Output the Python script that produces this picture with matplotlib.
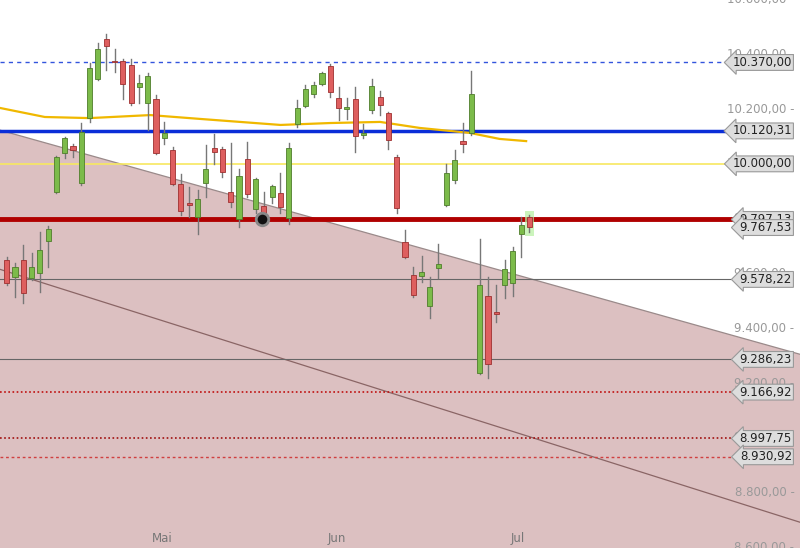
import matplotlib.pyplot as plt
from matplotlib.patches import Polygon

# OHLC per trading day (approx. Apr - Jul)
opens = [9649, 9586, 9649, 9582, 9600, 9720, 9899, 10041, 10065, 9931,
         10166, 10310, 10457, 10375, 10375, 10361, 10282, 10221, 10237, 10093,
         10051, 9927, 9856, 9807, 9929, 10057, 10053, 9899, 9798, 10017,
         9834, 9847, 9880, 9892, 9801, 10145, 10211, 10255, 10291, 10357,
         10242, 10199, 10236, 10105, 10197, 10245, 10184, 10026, 9716, 9594,
         9591, 9481, 9621, 9850, 9941, 10083, 10111, 9238, 9518, 9461,
         9558, 9566, 9743, 9807]
closes = [9564, 9625, 9530, 9625, 9686, 9761, 10026, 10096, 10051, 10118,
          10349, 10418, 10431, 10372, 10291, 10221, 10296, 10321, 10038, 10114,
          9927, 9829, 9851, 9871, 9980, 10044, 9972, 9862, 9956, 9890,
          9943, 9819, 9919, 9844, 10057, 10205, 10272, 10288, 10333, 10263,
          10205, 10209, 10102, 10114, 10284, 10215, 10087, 9838, 9661, 9521,
          9607, 9552, 9633, 9965, 10014, 10071, 10255, 9558, 9270, 9451,
          9615, 9683, 9776, 9771]
highs = [9661, 9637, 9704, 9673, 9753, 9773, 10029, 10099, 10073, 10148,
         10367, 10440, 10474, 10418, 10381, 10381, 10324, 10330, 10251, 10154,
         10060, 9963, 9917, 9905, 10069, 10108, 10063, 10077, 9980, 10081,
         9947, 9899, 9923, 9968, 10077, 10233, 10288, 10300, 10336, 10363,
         10282, 10242, 10282, 10145, 10311, 10266, 10190, 10032, 9759, 9625,
         9664, 9588, 9708, 9999, 10051, 10148, 10340, 9725, 9588, 9558,
         9649, 9698, 9807, 9813]
lows = [9558, 9515, 9491, 9576, 9534, 9625, 9895, 10020, 10026, 9923,
        10154, 10306, 10343, 10336, 10236, 10215, 10221, 10124, 10036, 10072,
        9923, 9813, 9807, 9744, 9880, 10000, 9953, 9844, 9771, 9880,
        9819, 9810, 9856, 9819, 9781, 10133, 10206, 10245, 10288, 10245,
        10160, 10163, 10045, 10093, 10184, 10178, 10053, 9822, 9655, 9513,
        9570, 9436, 9582, 9846, 9931, 10044, 10105, 9233, 9217, 9424,
        9512, 9518, 9661, 9753]

# moving average
ma_x = [-0.8, 4.6, 10, 17.3, 23.3, 33, 39, 45, 49.8, 55.8, 59.4, 62.6]
ma_y = [10204, 10171, 10167, 10178, 10164, 10142, 10149, 10153, 10131, 10113, 10091, 10083]

month_pos = [18.7, 39.8, 61.6]
month_labels = ["Mai", "Jun", "Jul"]

x0, x1 = -0.8, 95.6
y0, y1 = 8598, 10598
trend_upper = [10123, 9305]
trend_lower = [9615, 8692]

fig = plt.figure(figsize=(8, 5.48), dpi=100)
ax = fig.add_axes([0, 0, 1, 1])
ax.set_xlim(x0, x1)
ax.set_ylim(y0, y1)
ax.axis("off")

# shaded channel
ax.add_patch(Polygon([(x0, trend_upper[0]), (x1, trend_upper[1]), (x1, y0), (x0, y0)],
                     closed=True, facecolor="#dcc0c1", edgecolor="none", zorder=0))
ax.plot([x0, x1], trend_upper, color="#9a8a8a", lw=0.9, zorder=1)
ax.plot([x0, x1], trend_lower, color="#8a6565", lw=0.9, zorder=1)

# horizontal levels
xe = 88.5
ax.plot([x0, xe], [10370, 10370], color="#3355dd", lw=1, ls=(0, (3, 3)), zorder=2)
ax.plot([x0, xe], [10120.31, 10120.31], color="#0a2ed8", lw=2.5, zorder=2)
ax.plot([x0, xe], [10000, 10000], color="#f7e860", lw=1.2, zorder=2)
ax.plot([x0, xe], [9797.13, 9797.13], color="#b00000", lw=3.5, zorder=4)
ax.plot([x0, xe], [9578.22, 9578.22], color="#666666", lw=0.8, zorder=2)
ax.plot([x0, xe], [9286.23, 9286.23], color="#666666", lw=0.8, zorder=2)
ax.plot([x0, xe], [9166.92, 9166.92], color="#c01010", lw=1.2, ls=(0, (1, 1.5)), zorder=2)
ax.plot([x0, xe], [8997.75, 8997.75], color="#a01010", lw=1.2, ls=(0, (1, 1.5)), zorder=2)
ax.plot([x0, xe], [8930.92, 8930.92], color="#d04040", lw=1, ls=(0, (2, 2)), zorder=2)

# moving average
ax.plot(ma_x, ma_y, color="#f0b800", lw=1.6, zorder=3)

# candles
for i, (o, c, h, l) in enumerate(zip(opens, closes, highs, lows)):
    up = c >= o
    face = "#7cbb4a" if up else "#de5f5f"
    edge = "#4f7d2b" if up else "#9e3030"
    ax.plot([i, i], [l, h], color="#777777", lw=1, zorder=5)
    ax.bar(i, max(abs(c - o), 4), bottom=min(o, c), width=0.62,
           color=face, edgecolor=edge, linewidth=0.6, zorder=6)

# highlight last candle
n = len(opens) - 1
ax.bar(n, highs[n] - lows[n] + 30, bottom=lows[n] - 15, width=1.1,
       color="#b6f0a0", alpha=0.7, zorder=4)

# marker
ax.plot(30.8, 9797, "o", ms=9, mfc="#111111", mec="#888888", mew=2, zorder=7)

# right axis labels
for v in range(8600, 10601, 200):
    s = f"{v:,.2f}".replace(",", "X").replace(".", ",").replace("X", ".")
    ax.text(0.993, (v - y0) / (y1 - y0), s + " -", transform=ax.transAxes,
            ha="right", va="center", fontsize=8.5, color="#999999", zorder=8)

# price tags
tags = [(10370, "10.370,00"), (10120.31, "10.120,31"), (10000, "10.000,00"),
        (9797.13, "9.797,13"), (9767.53, "9.767,53"), (9578.22, "9.578,22"),
        (9286.23, "9.286,23"), (9166.92, "9.166,92"), (8997.75, "8.997,75"),
        (8930.92, "8.930,92")]
for v, s in tags:
    ax.text(0.99, (v - y0) / (y1 - y0), s, transform=ax.transAxes, ha="right",
            va="center", fontsize=8.5, color="#222222", zorder=9,
            bbox=dict(boxstyle="larrow,pad=0.12", fc="#dddddd", ec="#999999", lw=0.8))

# months
for p, m in zip(month_pos, month_labels):
    ax.text(p, y0 + 12, m, ha="center", va="bottom", fontsize=8.5, color="#777777")

fig.savefig("out.png", dpi=100)
